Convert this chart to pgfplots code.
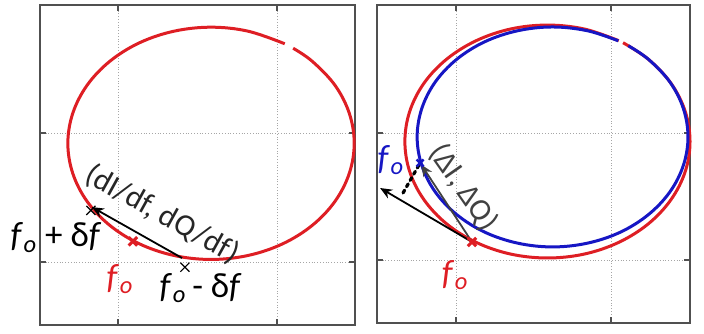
\documentclass[border=0pt]{standalone}
\usepackage{fontspec}
\setmainfont{Carlito}
\usepackage{pgfplots}
\pgfplotsset{compat=1.18}
\usetikzlibrary{arrows.meta}

\definecolor{cred}{RGB}{222,30,36}
\definecolor{cblue}{RGB}{22,22,196}
\definecolor{frame}{RGB}{80,80,80}
\definecolor{arrgray}{RGB}{65,65,65}

\newcommand{\fo}{\textit{f}\kern0.02em\textsubscript{\textit{o}}}
\newcommand{\lbl}{\fontsize{17.5}{20}\selectfont}
\newcommand{\rlbl}{\fontsize{15.5}{18}\selectfont}

\pgfplotsset{
  panel/.style={
    scale only axis, clip=false,
    axis line style={frame, line width=0.9pt},
    xtick={0,1}, ytick={0,1},
    xticklabels={}, yticklabels={},
    tick align=inside, major tick length=3pt,
    tick style={frame, line width=0.9pt},
    grid=major,
    grid style={densely dotted, black!35, line width=0.45pt},
  },
  redline/.style={cred, line width=1.5pt, smooth, tension=0.6},
  blueline/.style={cblue, line width=1.5pt, smooth, tension=0.6},
}

\begin{document}
\begin{tikzpicture}
\useasboundingbox (0,0) rectangle (352pt,166.5pt);

% left panel
\begin{axis}[panel, at={(20pt,4pt)}, anchor=south west,
  width=157.5pt, height=160pt,
  xmin=-0.49, xmax=1.49, ymin=-0.488, ymax=1.992]
  \addplot[redline] coordinates {
    (1.0485,1.6915) (0.818,1.789) (0.585,1.82) (0.352,1.789) (0.135,1.699)
    (-0.051,1.556) (-0.194,1.37) (-0.284,1.153) (-0.315,0.92) (-0.284,0.687)
    (-0.194,0.47) (-0.051,0.284) (0.135,0.141) (0.352,0.051) (0.585,0.02)
    (0.818,0.051) (1.035,0.141) (1.221,0.284) (1.364,0.47) (1.454,0.687)
    (1.485,0.92) (1.454,1.153) (1.364,1.37) (1.221,1.556) (1.101,1.657)
  };
  \addplot[-{Stealth[length=6pt,width=5pt]}, black, line width=0.9pt] coordinates {(0.403,0.031) (-0.164,0.426)};
  \addplot[only marks, mark=x, mark size=3pt, cred, mark options={line width=1.5pt}] coordinates {(0.094,0.160)};
  \addplot[only marks, mark=x, mark size=3.2pt, black, mark options={line width=0.6pt}] coordinates {(-0.17,0.40) (0.421,-0.04)};
  \node[rotate=-29, font=\rlbl, text=black!85] at (axis cs:0.28,0.37) {(dI/df, dQ/df)};
  \node[font=\lbl, anchor=center] at (axis cs:-0.39,0.19) {\fo\ + δ\textit{f}};
  \node[font=\lbl, text=cred] at (axis cs:0.013,-0.13) {\fo};
  \node[font=\lbl] at (axis cs:0.52,-0.2) {\fo\,- δ\textit{f}};
\end{axis}

% right panel
\begin{axis}[panel, at={(188.5pt,5pt)}, anchor=south west,
  width=156.5pt, height=159pt,
  xmin=-0.51, xmax=1.51, ymin=-0.496, ymax=2.008]
  \addplot[redline] coordinates {
    (1.05,1.727) (0.828,1.819) (0.59,1.85) (0.352,1.819) (0.13,1.727)
    (-0.061,1.581) (-0.207,1.392) (-0.299,1.170) (-0.33,0.933) (-0.299,0.696)
    (-0.207,0.475) (-0.061,0.285) (0.13,0.139) (0.352,0.047) (0.59,0.016)
    (0.828,0.047) (1.05,0.139) (1.241,0.285) (1.387,0.475) (1.479,0.696)
    (1.51,0.933) (1.479,1.170) (1.387,1.392) (1.241,1.581) (1.078,1.711)
  };
  \addplot[blueline] coordinates {
    (1.047,1.726) (0.849,1.805) (0.623,1.835) (0.397,1.805) (0.186,1.719)
    (0.005,1.581) (-0.134,1.402) (-0.221,1.193) (-0.251,0.969) (-0.221,0.745)
    (-0.134,0.536) (0.005,0.357) (0.186,0.219) (0.397,0.133) (0.623,0.103)
    (0.849,0.133) (1.06,0.219) (1.241,0.357) (1.38,0.536) (1.467,0.745)
    (1.497,0.969) (1.467,1.193) (1.38,1.402) (1.241,1.581) (1.112,1.687)
  };
  \addplot[black, line width=1.6pt, dotted, line cap=round] coordinates {(-0.342,0.528) (-0.232,0.764)};
  \addplot[-{Stealth[length=6pt,width=5pt]}, black, line width=0.9pt] coordinates {(0.103,0.142) (-0.49,0.567)};
  \addplot[-{Stealth[length=6pt,width=5pt]}, arrgray, line width=0.9pt] coordinates {(0.103,0.142) (-0.225,0.752)};
  \addplot[only marks, mark=x, mark size=3pt, cred, mark options={line width=1.5pt}] coordinates {(0.103,0.142)};
  \addplot[only marks, mark=x, mark size=2.5pt, cblue, mark options={line width=1.2pt}] coordinates {(-0.232,0.764)};
  \node[rotate=-55, font=\rlbl, text=arrgray] at (axis cs:0.05,0.57) {(ΔI, ΔQ)};
  \node[font=\lbl, text=cblue] at (axis cs:-0.42,0.79) {\fo};
  \node[font=\lbl, text=cred] at (axis cs:-0.006,-0.12) {\fo};
\end{axis}
\end{tikzpicture}
\end{document}
